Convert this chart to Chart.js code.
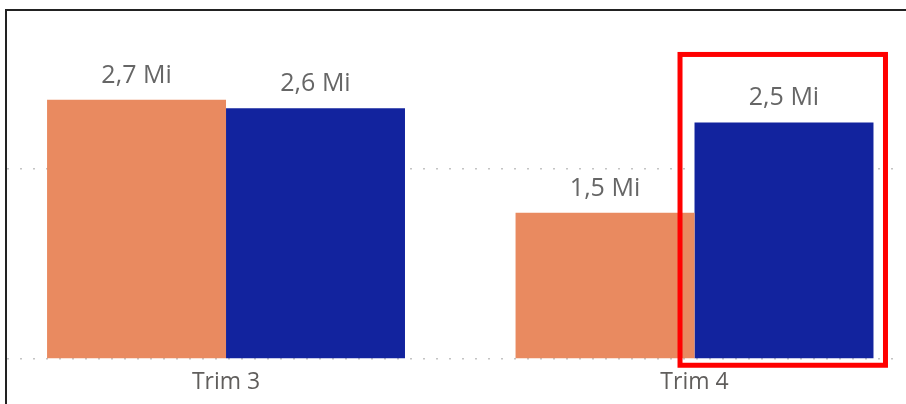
<!DOCTYPE html>
<html>
<head>
<meta charset="utf-8">
<script src="https://cdn.jsdelivr.net/npm/chart.js@4"></script>
<style>
    body { margin: 0; background: #fff; }
    #wrap { position: relative; width: 906px; height: 404px; }
    #frame {
        position: absolute; left: 5px; top: 9px; right: 0; bottom: 0;
        border-top: 2px solid #222; border-left: 2px solid #222;
        pointer-events: none;
    }
</style>
</head>
<body>
<div id="wrap">
    <canvas id="canvasTrim" width="906" height="404"></canvas>
    <div id="frame"></div>
</div>
<script>
// valores em milhões
const categorias = ['Trim 3', 'Trim 4']
const serieLaranja = [2.73, 1.54]
const serieAzul = [2.64, 2.49]
const ticksY = [0, 2]

const fonte = '"Segoe UI", "Open Sans", sans-serif'

function formatMi(v) {
    return v.toFixed(1).replace('.', ',') + ' Mi'
}

// rótulos acima das barras
const rotulos = {
    id: 'rotulos',
    afterDatasetsDraw(chart) {
        const ctx = chart.ctx
        ctx.save()
        ctx.font = '25px ' + fonte
        ctx.fillStyle = '#666666'
        ctx.textAlign = 'center'
        ctx.textBaseline = 'alphabetic'
        chart.data.datasets.forEach((ds, i) => {
            chart.getDatasetMeta(i).data.forEach((bar, j) => {
                ctx.fillText(formatMi(ds.data[j].y), bar.x, bar.y - 17)
            })
        })
        ctx.restore()
    }
}

// destaque vermelho na última barra azul
const destaque = {
    id: 'destaque',
    afterDraw(chart) {
        const bar = chart.getDatasetMeta(1).data[1]
        const ctx = chart.ctx
        const left = bar.x - bar.width / 2 - 14.5
        const right = bar.x + bar.width / 2 + 12
        const top = bar.y - 68
        const bottom = bar.base + 7
        ctx.save()
        ctx.strokeStyle = '#FF0000'
        ctx.lineWidth = 5
        ctx.strokeRect(left, top, right - left, bottom - top)
        ctx.restore()
    }
}

new Chart(document.getElementById('canvasTrim').getContext('2d'), {
    type: 'bar',
    data: {
        datasets: [
            {
                label: 'Série 1',
                data: serieLaranja.map((v, i) => ({ x: i, y: v })),
                backgroundColor: '#E98A60',
                borderWidth: 0
            },
            {
                label: 'Série 2',
                data: serieAzul.map((v, i) => ({ x: i, y: v })),
                backgroundColor: '#12239E',
                borderWidth: 0
            }
        ]
    },
    options: {
        responsive: false,
        animation: false,
        categoryPercentage: 0.764,
        barPercentage: 1,
        layout: { padding: { left: 7, right: 9, top: 26.5, bottom: 0 } },
        plugins: {
            legend: { display: false },
            tooltip: { enabled: false }
        },
        scales: {
            x: {
                type: 'linear',
                offset: false,
                min: -0.4675,
                max: 1.4322,
                grid: { display: false, drawTicks: false, offset: false },
                border: { display: false },
                afterBuildTicks: s => { s.ticks = categorias.map((c, i) => ({ value: i })) },
                afterFit: s => { s.height = 45 },
                ticks: {
                    padding: 10,
                    color: '#605E5C',
                    font: { family: fonte, size: 23 },
                    callback: v => categorias[v]
                }
            },
            y: {
                min: 0,
                max: 3.5,
                afterBuildTicks: s => { s.ticks = ticksY.map(v => ({ value: v })) },
                afterFit: s => { s.width = 0 },
                grid: { color: '#C4C4C4', lineWidth: 1.5, drawTicks: false },
                border: { display: false, dash: [2, 11] },
                ticks: { display: false }
            }
        }
    },
    plugins: [rotulos, destaque]
})
</script>
</body>
</html>
